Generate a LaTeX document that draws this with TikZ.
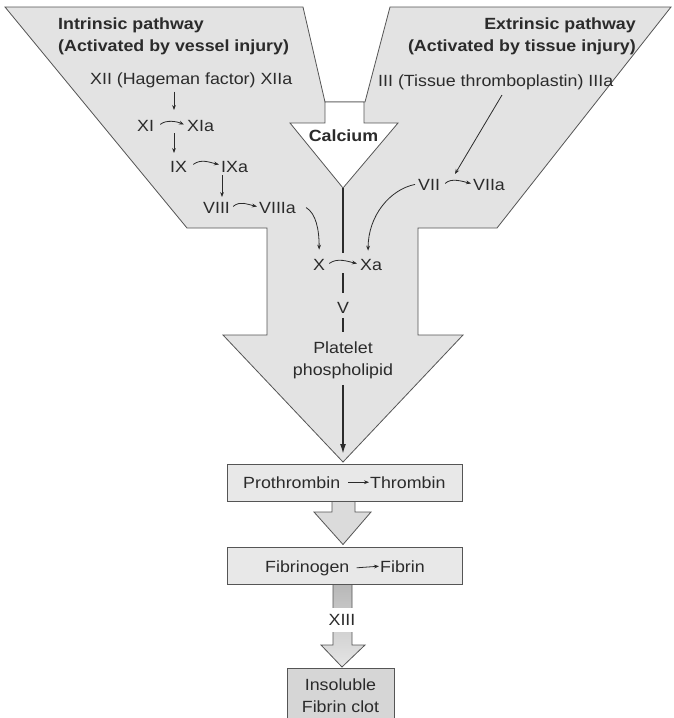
\documentclass[tikz,border=0pt]{standalone}
\usepackage{fontspec}
\setmainfont{Liberation Sans}[FakeStretch=1.1]
\usetikzlibrary{arrows.meta,calc}
\definecolor{shapefill}{HTML}{E3E3E3}
\definecolor{boxfill}{HTML}{E8E8E8}
\definecolor{clotfill}{HTML}{D6D6D6}
\definecolor{inkc}{HTML}{2B2B2B}
\definecolor{edgec}{HTML}{555555}
\begin{document}
\begin{tikzpicture}[x=1pt,y=-1pt,
  txt/.style={inner sep=0pt, text=inkc, font=\fontsize{16.2}{22}\selectfont},
  bold/.style={inner sep=0pt, text=inkc, font=\bfseries\fontsize{16.2}{22}\selectfont},
  sm/.style={draw=inkc, line width=0.8pt, -{Stealth[length=5pt,width=3.8pt]}},
  vline/.style={draw=inkc, line width=1.6pt},
  outline/.style={draw=edgec, line width=0.8pt},
  boxstyle/.style={outline, fill=boxfill, minimum width=235pt, minimum height=37pt, inner sep=0pt}
]
\useasboundingbox[fill=white] (0,0) rectangle (673,718);

% big funnel shape
\path[outline, fill=shapefill] (5,7) -- (303,7) -- (325,102) -- (365,102) -- (390,7) -- (671,7)
  -- (497,228) -- (418,228) -- (418,335) -- (463,335) -- (343,462) -- (223,335) -- (267,335)
  -- (267,228) -- (187,228) -- cycle;
\coordinate (bigtip) at (343,462);

% calcium arrow
\path[outline, fill=white] (325,102) -- (364,102) -- (364,123) -- (398,123) -- (343,188)
  -- (290,123) -- (325,123) -- cycle;
\coordinate (catip) at (343,188);
\node[bold, anchor=base] (calcium) at (343.5,141) {Calcium};

% titles
\node[bold, align=left, anchor=north west] (intr) at (58,17.4) {Intrinsic pathway\\(Activated by vessel injury)};
\node[bold, align=right, anchor=north east] (extr) at (636,17.4) {Extrinsic pathway\\(Activated by tissue injury)};

% intrinsic cascade
\node[txt, anchor=base west] (xii) at (90,84) {XII (Hageman factor) XIIa};
\node[txt, anchor=base west] (xi) at (137,131) {XI};
\node[txt, anchor=base west] (xia) at (187,131) {XIa};
\node[txt, anchor=base west] (ix) at (170,172) {IX};
\node[txt, anchor=base west] (ixa) at (221,172) {IXa};
\node[txt, anchor=base west] (viii) at (203,213) {VIII};
\node[txt, anchor=base west] (viiia) at (259,213) {VIIIa};

\draw[sm] ([xshift=6,yshift=1]xi.east) .. controls +(6,-5) and +(-7,-3) .. ([xshift=-3,yshift=1]xia.west);
\draw[sm] ([xshift=6,yshift=2]ix.east) .. controls +(8,-6) and +(-9,-2) .. ([xshift=-2,yshift=2]ixa.west);
\draw[sm] ([xshift=3,yshift=1]viii.east) .. controls +(7,-6) and +(-9,-2) .. ([xshift=-2,yshift=1]viiia.west);

\coordinate (p1) at (174,110);
\coordinate (p2) at (174,153);
\coordinate (p3) at (222,197);
\draw[sm, shorten <=4pt] (xii.south -| p1) -- (p1);
\draw[sm, shorten <=2pt] (xi.south -| p2) -- (p2);
\draw[sm, shorten <=3pt] (ixa.south -| p3) -- (p3);

% extrinsic cascade
\node[txt, anchor=base west] (iii) at (378,86) {III (Tissue thromboplastin) IIIa};
\node[txt, anchor=base west] (vii) at (418,190) {VII};
\node[txt, anchor=base west] (viia) at (473,190) {VIIa};
\draw[sm] ([xshift=5,yshift=1]vii.east) .. controls +(6,-6) and +(-8,-2) .. ([xshift=-2,yshift=1]viia.west);
\coordinate (p4) at (502,95);
\coordinate (p5) at (455,174);
\draw[sm] (p4) -- (p5);

% common pathway
\node[txt, anchor=base west] (x) at (313,270) {X};
\node[txt, anchor=base west] (xa) at (360,270) {Xa};
\draw[sm] ([xshift=4,yshift=1]x.east) .. controls +(8,-6) and +(-9,-2) .. ([xshift=-3,yshift=1]xa.west);
\draw[sm] ([xshift=10]viiia.east) .. controls +(10,6) and +(0,-20) .. ([yshift=9]x.north);
\draw[sm] ([xshift=-3]vii.west) .. controls +(-25,5) and +(0,-35) .. ([xshift=-3,yshift=8]xa.north);

\node[txt] (v) at (343,308) {V};
\node[txt, align=center, anchor=north] (plt) at (343,341.4) {Platelet\\phospholipid};

\draw[vline, shorten >=6pt] (catip) -- (catip |- x.north);
\draw[vline, shorten <=3pt, shorten >=9pt] (x.south -| catip) -- (v.north);
\draw[vline, shorten <=4pt, shorten >=9pt] (v.south) -- (plt.north);
\draw[vline, -{Latex[length=10pt,width=6pt]}, shorten <=6pt, shorten >=8pt] (plt.south) -- (bigtip);

% lower part
\path[outline, fill=black!14] (332,501) -- (355,501) -- (355,512) -- (371,512) -- (343,544.5)
  -- (314,512) -- (332,512) -- cycle;
\path[outline, top color=black!28, bottom color=black!10] (333,584) -- (352,584) -- (352,645) -- (365,645)
  -- (342,667) -- (321,645) -- (333,645) -- cycle;

\node[boxstyle] (box1) at (344.5,482.5) {};
\node[boxstyle] (box2) at (344.5,565.5) {};
\path[outline, fill=clotfill] (287,730) -- (287,668) -- (394,668) -- (394,730);

\node[txt, anchor=base west] (pro) at (243,488) {Prothrombin};
\node[txt, anchor=base west] (thr) at (370,488) {Thrombin};
\draw[sm] ([xshift=8]pro.east) -- ([xshift=-1]thr.west);

\node[txt, anchor=base west] (fbg) at (265,572) {Fibrinogen};
\node[txt, anchor=base west] (fbr) at (380,572) {Fibrin};
\draw[sm] ([xshift=7]fbg.east) -- ([xshift=-1]fbr.west);

\node[txt, fill=white, minimum height=24pt, inner xsep=2pt] (xiii) at (342,620) {XIII};
\node[txt, align=center, anchor=north] (clot) at (340.5,678.4) {Insoluble\\Fibrin clot};
\end{tikzpicture}
\end{document}
